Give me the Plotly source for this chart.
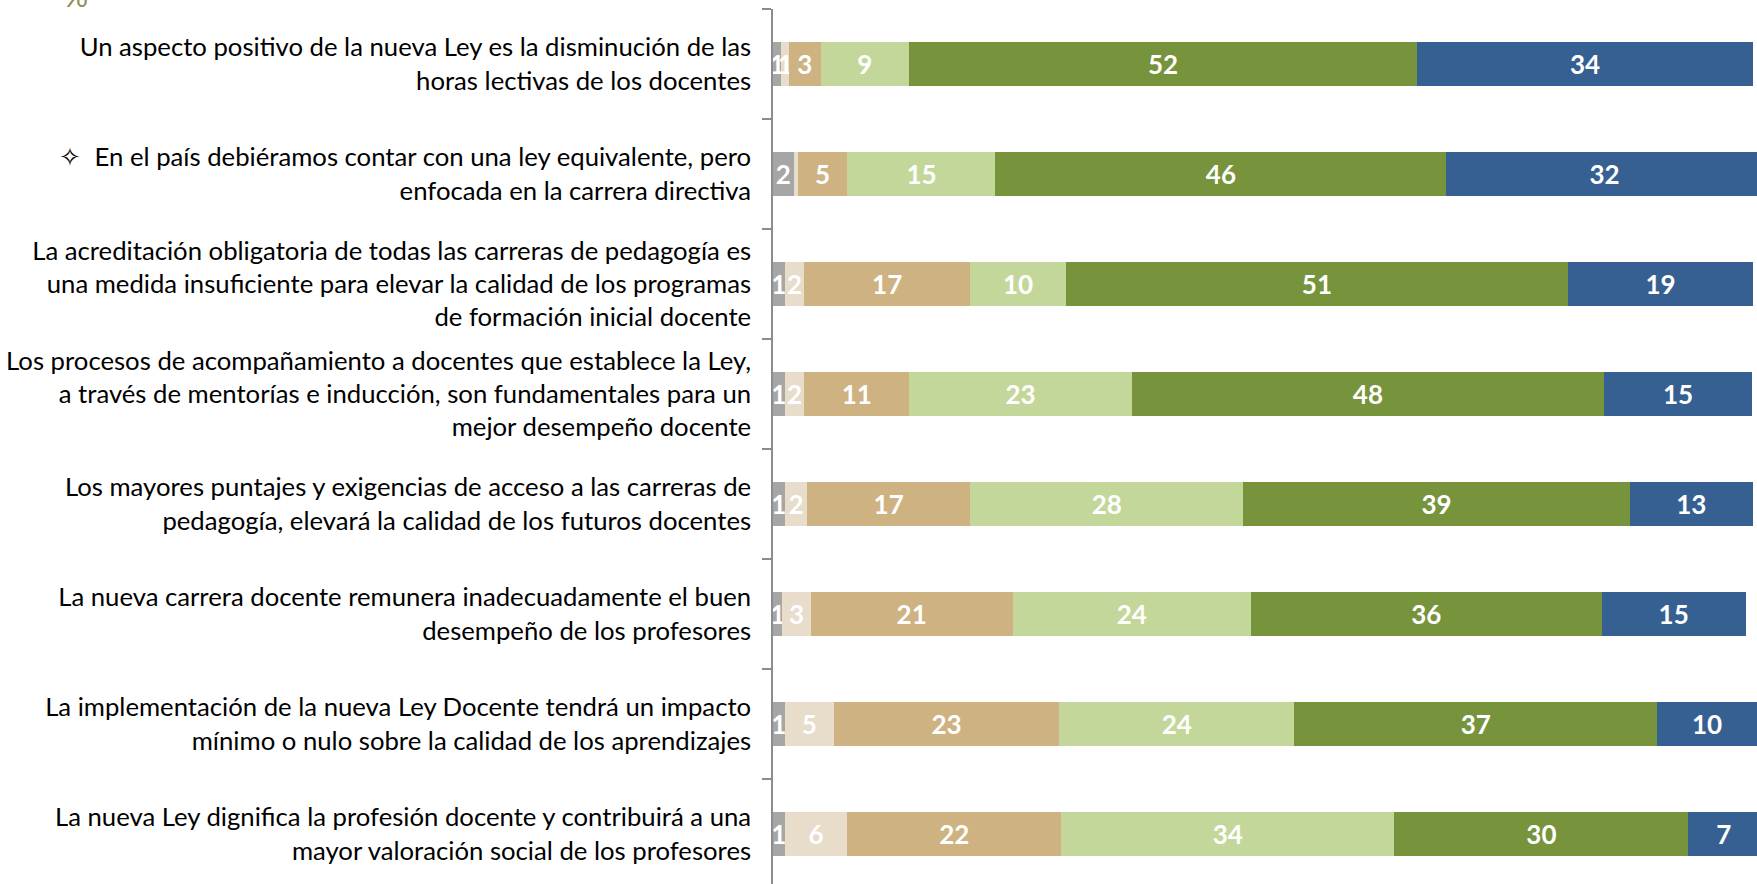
import plotly.graph_objects as go

categories = [
    "Un aspecto positivo de la nueva Ley es la disminución de las<br>horas lectivas de los docentes",
    "✧  En el país debiéramos contar con una ley equivalente, pero<br>enfocada en la carrera directiva",
    "La acreditación obligatoria de todas las carreras de pedagogía es<br>una medida insuficiente para elevar la calidad de los programas<br>de formación inicial docente",
    "Los procesos de acompañamiento a docentes que establece la Ley,<br>a través de mentorías e inducción, son fundamentales para un<br>mejor desempeño docente",
    "Los mayores puntajes y exigencias de acceso a las carreras de<br>pedagogía, elevará la calidad de los futuros docentes",
    "La nueva carrera docente remunera inadecuadamente el buen<br>desempeño de los profesores",
    "La implementación de la nueva Ley Docente tendrá un impacto<br>mínimo o nulo sobre la calidad de los aprendizajes",
    "La nueva Ley dignifica la profesión docente y contribuirá a una<br>mayor valoración social de los profesores",
]

series_names = ["No sabe / No responde", "Muy en desacuerdo", "En desacuerdo",
                "Ni de acuerdo ni en desacuerdo", "De acuerdo", "Muy de acuerdo"]

ns_nr          = [0.85, 2.1, 1.2, 1.2, 1.2, 0.95, 1.2, 1.2]
muy_desacuerdo = [0.8, 0.4, 2.0, 2.0, 2.3, 2.9, 5.0, 6.4]
desacuerdo     = [3.2, 5.1, 16.9, 10.7, 16.6, 20.6, 23.0, 21.8]
ni_ni          = [9.05, 15.1, 9.8, 22.7, 27.9, 24.3, 24.0, 34.0]
de_acuerdo     = [51.8, 46.0, 51.2, 48.2, 39.4, 35.8, 37.0, 30.0]
muy_de_acuerdo = [34.3, 32.3, 18.9, 15.1, 12.6, 14.7, 10.2, 7.2]

series_values = [ns_nr, muy_desacuerdo, desacuerdo, ni_ni, de_acuerdo, muy_de_acuerdo]
colors = ["#A6A6A6", "#E8DCCB", "#CEB282", "#C4D79B", "#77933C", "#366092"]

FONT = "Lato"

fig = go.Figure()
for name, vals, col in zip(series_names, series_values, colors):
    labels = [str(int(round(v))) if round(v) > 0 else "" for v in vals]
    fig.add_trace(go.Bar(
        y=categories, x=vals, name=name, orientation="h",
        marker=dict(color=col, line=dict(width=0)),
        text=labels, textposition="inside", insidetextanchor="middle",
        textangle=0, constraintext="none",
        textfont=dict(family=FONT, size=26, color="white", weight="bold"),
        hoverinfo="skip",
    ))

fig.update_layout(
    barmode="stack", bargap=0.6,
    width=1757, height=884,
    margin=dict(l=773, r=0, t=9, b=0, autoexpand=False),
    paper_bgcolor="white", plot_bgcolor="white",
    showlegend=False,
    font=dict(family=FONT),
    xaxis=dict(range=[0, 100.4], visible=False, fixedrange=True, automargin=False),
    yaxis=dict(
        categoryorder="array", categoryarray=categories,
        range=[7.455, -0.5], automargin=False, fixedrange=True,
        tickson="boundaries", ticks="outside", ticklen=9, tickwidth=1.5,
        tickcolor="#8C8C8C", showline=True, linecolor="#8C8C8C", linewidth=1.5,
        showgrid=False, zeroline=False,
        tickfont=dict(family=FONT, size=25.7, color="#000000"),
        ticklabelstandoff=15,
    ),
    annotations=[dict(
        text="%", xref="paper", yref="paper", x=(76 - 773) / 984, y=1,
        yanchor="bottom", xanchor="center", yshift=-6, showarrow=False,
        font=dict(family=FONT, size=30, color="#948A54"),
    )],
)

fig.write_html("out.html", config={"displayModeBar": False},
               post_script="document.body.style.margin='0px';")
